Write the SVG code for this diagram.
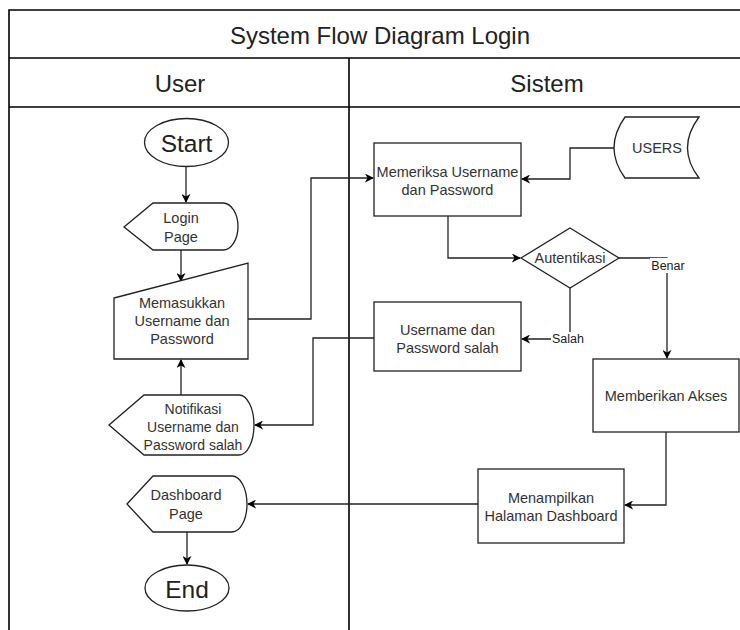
<svg xmlns="http://www.w3.org/2000/svg" width="740" height="630" viewBox="0 0 740 630">
<defs>
<marker id="arr" viewBox="0 0 10 10" refX="9" refY="5" markerWidth="9" markerHeight="9" markerUnits="userSpaceOnUse" orient="auto">
<path d="M0,0 L10,5 L0,10 L3,5 Z" fill="#000"/>
</marker>
<style>
.frame{fill:none;stroke:#000;stroke-width:1.6}
.shape{fill:#fff;stroke:#222;stroke-width:1.3}
.conn{fill:none;stroke:#222;stroke-width:1.3;marker-end:url(#arr)}
.t{font-family:"Liberation Sans",Arial,sans-serif;fill:#333;text-anchor:middle;dominant-baseline:central}
.s14{font-size:14.5px}
.s13{font-size:14px}
.lbl{font-size:12.5px;fill:#222}
.s24{font-size:24px;fill:#222}
.se{font-size:24.5px;fill:#222}
</style>
</defs>
<rect x="0" y="0" width="740" height="630" fill="#fff"/>
<g id="frame">
<path class="frame" d="M9,630 V10 H741 M9,58 H741 M9,107 H741 M349,58 V630"/>
<text class="t s24" x="380" y="35">System Flow Diagram Login</text>
<text class="t s24" x="180" y="83">User</text>
<text class="t s24" x="547" y="83">Sistem</text>
</g>
<g id="connectors">
<path class="conn" d="M186,167 V202"/>
<path class="conn" d="M181,250 V281"/>
<path class="conn" d="M248,319 H311 V178 H373"/>
<path class="conn" d="M614,148 H570 V179 H522"/>
<path class="conn" d="M448,216 V258 H520"/>
<path class="conn" d="M619,258 H667 V358"/>
<path class="conn" d="M570,288 V339 H522"/>
<path class="conn" d="M374,338 H313 V425 H255"/>
<path class="conn" d="M181,395 V360"/>
<path class="conn" d="M666,432 V505 H625"/>
<path class="conn" d="M478,504 H248"/>
<path class="conn" d="M187,532 V564"/>
</g>
<g id="start">
<ellipse class="shape" cx="186.5" cy="142.5" rx="42" ry="24"/>
<text class="t se" x="186.5" y="143">Start</text>
</g>
<g id="login-page">
<path class="shape" d="M124,227 L153,203 H223 A15,23.5 0 0 1 223,250 H153 Z"/>
<text class="t s14" x="181" y="218">Login</text>
<text class="t s14" x="181" y="237">Page</text>
</g>
<g id="input-credentials">
<path class="shape" d="M114,298 L248,263 V359 H114 Z"/>
<text class="t s14" x="182" y="303">Memasukkan</text>
<text class="t s14" x="182" y="321">Username dan</text>
<text class="t s14" x="182" y="339">Password</text>
</g>
<g id="notifikasi">
<path class="shape" d="M109,425 L144,395 H239 A15,30 0 0 1 239,455 H144 Z"/>
<text class="t s13" x="193" y="409">Notifikasi</text>
<text class="t s13" x="193" y="427">Username dan</text>
<text class="t s13" x="193" y="445">Password salah</text>
</g>
<g id="dashboard-page">
<path class="shape" d="M127,504 L153,476 H232 A15,28 0 0 1 232,532 H153 Z"/>
<text class="t s14" x="186" y="495">Dashboard</text>
<text class="t s14" x="186" y="514">Page</text>
</g>
<g id="end">
<ellipse class="shape" cx="187" cy="588" rx="42" ry="23"/>
<text class="t se" x="187" y="589">End</text>
</g>
<g id="memeriksa">
<rect class="shape" x="374" y="143" width="147" height="73"/>
<text class="t s14" x="447.5" y="172">Memeriksa Username</text>
<text class="t s14" x="447.5" y="190">dan Password</text>
</g>
<g id="users">
<path class="shape" d="M625,117 H699 Q676,148 699,178 H625 Q603,148 625,117 Z"/>
<text class="t s14" x="657" y="148">USERS</text>
</g>
<g id="autentikasi">
<path class="shape" d="M570,228 L619,258 L570,288 L521,258 Z"/>
<text class="t s14" x="570" y="258">Autentikasi</text>
</g>
<g id="password-salah">
<rect class="shape" x="374" y="302" width="147" height="69"/>
<text class="t s14" x="447.5" y="330">Username dan</text>
<text class="t s14" x="447.5" y="348">Password salah</text>
</g>
<g id="memberikan-akses">
<rect class="shape" x="593" y="359" width="146" height="73"/>
<text class="t s14" x="666" y="396">Memberikan Akses</text>
</g>
<g id="menampilkan">
<rect class="shape" x="478" y="469" width="146" height="74"/>
<text class="t s14" x="551" y="498">Menampilkan</text>
<text class="t s14" x="551" y="516">Halaman Dashboard</text>
</g>
<g id="labels">
<rect x="650" y="258" width="36" height="15" fill="#fff"/>
<text class="t lbl" x="668" y="266">Benar</text>
<rect x="551" y="332" width="34" height="15" fill="#fff"/>
<text class="t lbl" x="568" y="339">Salah</text>
</g>
</svg>
